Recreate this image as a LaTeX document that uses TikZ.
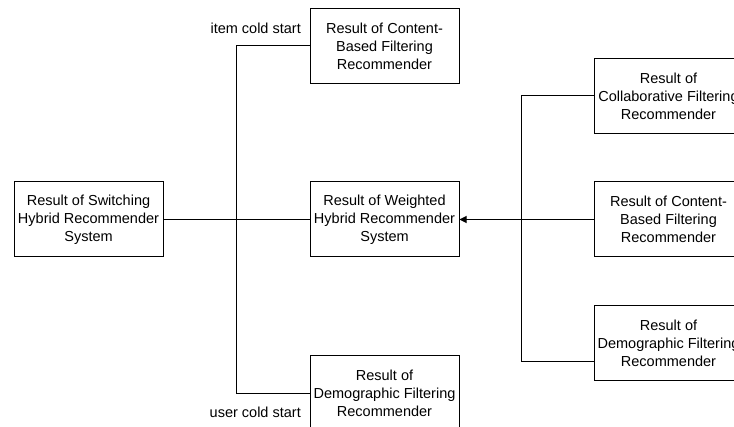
\documentclass[tikz,border=0pt]{standalone}
\usepackage{fontspec}
\setmainfont{Liberation Sans}
\usetikzlibrary{arrows.meta,calc}
\begin{document}
\begin{tikzpicture}[x=1pt,y=-1pt,
  box/.style={draw,line width=1pt,minimum width=149pt,minimum height=75pt,inner sep=0pt,align=center,
    font=\fontsize{14.5}{18}\selectfont},
  lbl/.style={anchor=east,inner sep=0pt,font=\fontsize{14.5}{18}\selectfont},
  conn/.style={line width=1pt},
]
\useasboundingbox (0,0) rectangle (734,427);
\clip (0,0) rectangle (734,427);
\node[box] (cbtop) at (384.5,46) {Result of Content-\\Based Filtering\\Recommender};
\node[box] (sw) at (88.5,219.5) {Result of Switching\\Hybrid Recommender\\System};
\node[box] (wh) at (384.5,219.5) {Result of Weighted\\Hybrid Recommender\\System};
\node[box] (dfbot) at (384.5,393.5) {Result of\\Demographic Filtering\\Recommender};
\node[box] (cf) at (668.5,96) {Result of\\Collaborative Filtering\\Recommender};
\node[box] (cb) at (668.5,219.5) {Result of Content-\\Based Filtering\\Recommender};
\node[box] (df) at (668.5,343) {Result of\\Demographic Filtering\\Recommender};
\node[lbl] (ics) at (301,28) {item cold start};
\node[lbl] (ucs) at (301,412) {user cold start};
\coordinate (lx) at (236.5,0);
\coordinate (rx) at (521,0);
\coordinate (dfin) at ($(df.west)+(0,18.5)$);
\draw[conn] (sw.east) -- (wh.west);
\draw[conn] (cbtop.west) -- (cbtop.west -| lx) -- (dfbot.west -| lx) -- (dfbot.west);
\draw[conn] (cf.west) -- (cf.west -| rx) -- (dfin -| rx) -- (dfin);
\draw[conn,-{Triangle[length=7pt,width=7pt]}] (cb.west) -- (wh.east);
\end{tikzpicture}
\end{document}
